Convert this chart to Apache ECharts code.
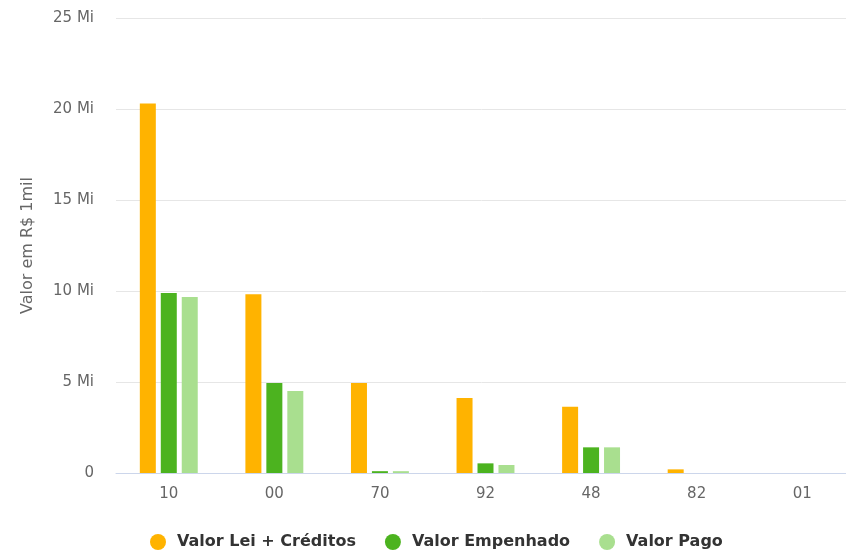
<!DOCTYPE html>
<html>
<head>
<meta charset="utf-8">
<script src="https://cdn.jsdelivr.net/npm/echarts@6/dist/echarts.min.js"></script>
<style>
  html, body { margin: 0; padding: 0; background: #fff; }
  #chart { width: 846px; height: 552px; }
</style>
</head>
<body>
<div id="chart"></div>
<script>
  // valores em milhões
  var categories = ['10', '00', '70', '92', '48', '82', '01'];
  var valorLei = [20.3, 9.82, 4.95, 4.12, 3.64, 0.2, 0];
  var valorEmpenhado = [9.89, 4.95, 0.1, 0.53, 1.41, 0, 0];
  var valorPago = [9.67, 4.51, 0.1, 0.44, 1.41, 0, 0];
  var legendNames = ['Valor Lei + Créditos', 'Valor Empenhado', 'Valor Pago'];
  var colors = ['#ffb300', '#4cb31f', '#a9df8f'];

  var chart = echarts.init(document.getElementById('chart'));

  var seriesData = [valorLei, valorEmpenhado, valorPago];
  var series = [];
  for (var i = 0; i < seriesData.length; i++) {
    series.push({
      name: legendNames[i],
      type: 'bar',
      barWidth: 16,
      barGap: '31%',
      itemStyle: {
        color: colors[i]
      },
      data: seriesData[i]
    });
  }

  chart.setOption({
    animation: false,
    textStyle: { fontFamily: 'DejaVu Sans' },
    color: colors,
    grid: {
      top: 18,
      bottom: 79,
      left: 116,
      width: 739,
      outerBoundsMode: 'none'
    },
    legend: {
      bottom: -3,
      left: 145,
      icon: 'circle',
      itemWidth: 16,
      itemHeight: 16,
      itemGap: 29,
      textStyle: {
        fontSize: 16,
        fontWeight: 'bold',
        color: '#333',
        padding: [0, 0, 0, 6]
      },
      data: legendNames
    },
    xAxis: {
      type: 'category',
      data: categories,
      axisTick: { show: false },
      axisLine: { lineStyle: { color: '#ccd6eb' } },
      axisLabel: { color: '#666', fontSize: 15, margin: 14 }
    },
    yAxis: {
      type: 'value',
      min: 0,
      max: 25,
      interval: 5,
      name: 'Valor em R$ 1mil',
      nameLocation: 'middle',
      nameGap: 80,
      nameTextStyle: { color: '#666', fontSize: 16 },
      axisLine: { show: false },
      axisTick: { show: false },
      axisLabel: {
        color: '#666',
        fontSize: 15,
        margin: 22,
        formatter: function (v) { return v === 0 ? '0' : v + ' Mi'; }
      },
      splitLine: { lineStyle: { color: '#e6e6e6' } }
    },
    series: series
  });
</script>
</body>
</html>
